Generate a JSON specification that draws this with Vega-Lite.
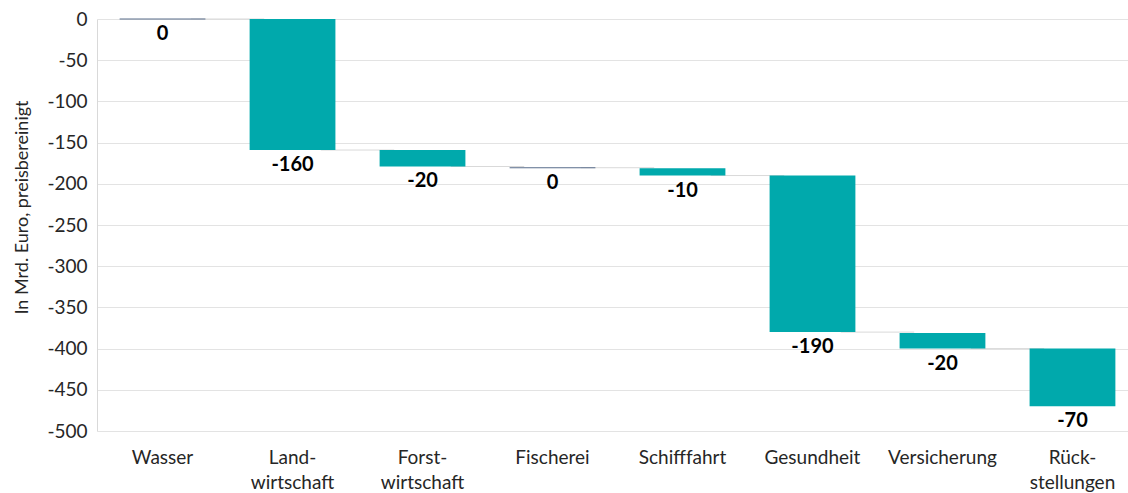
{
  "$schema": "https://vega.github.io/schema/vega-lite/v6.json",
  "width": 1031,
  "height": 412,
  "autosize": {"type": "none"},
  "padding": {"left": 97, "top": 19, "right": 0, "bottom": 62},
  "background": "white",
  "config": {"view": {"stroke": null}, "font": "Lato"},
  "data": {
    "values": [
      {"cat": "Wasser", "start": 0, "end": 0, "label": "0"},
      {"cat": "Land-|wirtschaft", "start": 0, "end": -159, "label": "-160"},
      {"cat": "Forst-|wirtschaft", "start": -159, "end": -179, "label": "-20"},
      {"cat": "Fischerei", "start": -180.5, "end": -180.5, "label": "0"},
      {"cat": "Schifffahrt", "start": -181, "end": -190, "label": "-10"},
      {"cat": "Gesundheit", "start": -190, "end": -380, "label": "-190"},
      {"cat": "Versicherung", "start": -381, "end": -400, "label": "-20"},
      {"cat": "Rück-|stellungen", "start": -400, "end": -470, "label": "-70"}
    ]
  },
  "encoding": {
    "x": {
      "field": "cat",
      "type": "nominal",
      "sort": null,
      "scale": {"paddingInner": 0.34, "paddingOuter": 0.174, "range": [0, 1041]},
      "axis": {
        "title": null,
        "domain": false,
        "ticks": false,
        "labelAngle": 0,
        "labelFontSize": 19,
        "labelColor": "#262626",
        "labelPadding": 17,
        "labelLineHeight": 25,
        "labelExpr": "split(datum.value, '|')"
      }
    }
  },
  "layer": [
    {
      "transform": [
        {"window": [{"op": "lead", "field": "cat", "as": "nextCat"}], "frame": [null, null]},
        {"filter": "datum.nextCat != null"}
      ],
      "mark": {"type": "rule", "color": "#d9d9d9", "strokeWidth": 1},
      "encoding": {
        "x": {"field": "cat", "type": "nominal", "sort": null, "bandPosition": 0.83},
        "x2": {"field": "nextCat", "bandPosition": 0.17},
        "y": {"field": "end", "type": "quantitative"}
      }
    },
    {
      "mark": {"type": "bar", "color": "#00a9ac", "strokeWidth": 1.2},
      "encoding": {
        "y": {
          "field": "start",
          "type": "quantitative",
          "scale": {"domain": [-500, 0], "nice": false},
          "axis": {
            "title": "In Mrd. Euro, preisbereinigt",
            "titleFontSize": 18,
            "titleFontWeight": "normal",
            "titleColor": "#262626",
            "titlePadding": 15,
            "titleY": 188,
            "titleAlign": "center",
            "values": [0, -50, -100, -150, -200, -250, -300, -350, -400, -450, -500],
            "labelExpr": "'' + datum.value",
            "labelFontSize": 19,
            "labelColor": "#262626",
            "labelPadding": 10,
            "ticks": false,
            "domainColor": "#d9d9d9",
            "gridColor": "#e3e3e3"
          }
        },
        "y2": {"field": "end"},
        "stroke": {
          "condition": {"test": "datum.start == datum.end", "value": "#5a6e8c"},
          "value": null
        }
      }
    },
    {
      "mark": {"type": "text", "fontSize": 20, "fontWeight": "bold", "color": "#000000", "baseline": "middle", "dy": 15},
      "encoding": {
        "y": {"field": "end", "type": "quantitative"},
        "text": {"field": "label"}
      }
    }
  ]
}
